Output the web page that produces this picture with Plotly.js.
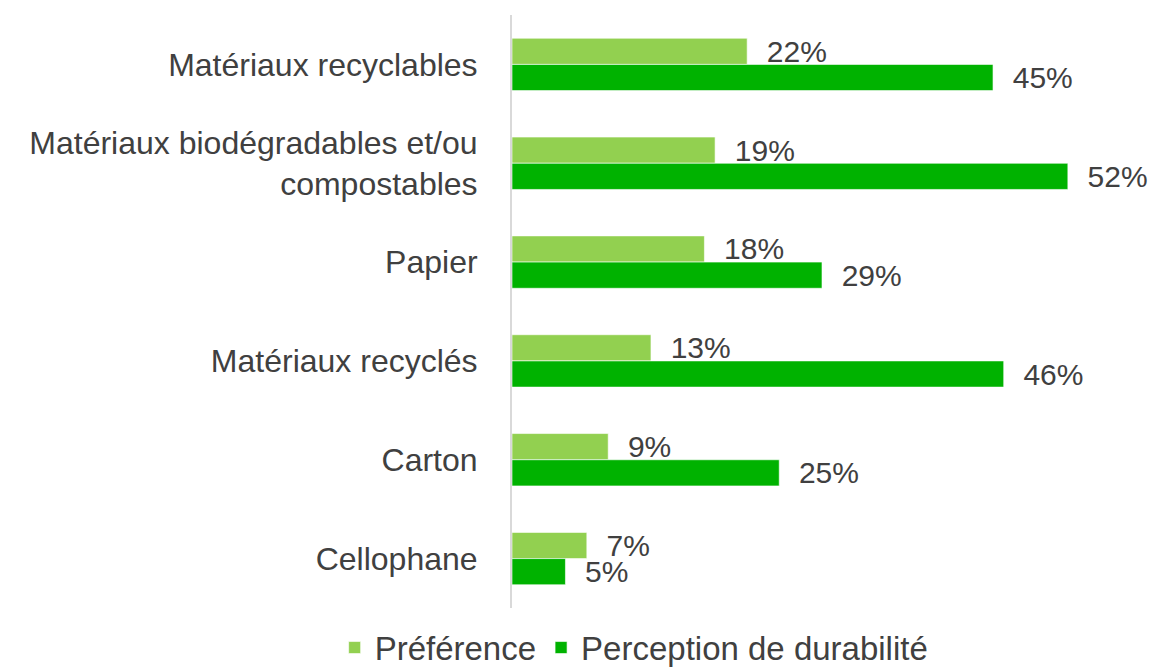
<!DOCTYPE html>
<html>
<head>
<meta charset="utf-8">
<script src="https://cdn.plot.ly/plotly-3.0.1.min.js"></script>
<style>html,body{margin:0;padding:0;background:#fff;}#chart{width:1150px;height:669px;}</style>
</head>
<body>
<div id="chart"></div>
<script>
const categories = ["Matériaux recyclables", "Matériaux biodégradables et/ou<br>compostables", "Papier", "Matériaux recyclés", "Carton", "Cellophane"];
const preference = [22, 19, 18, 13, 9, 7];
const perception = [45, 52, 29, 46, 25, 5];
const seriesNames = ["Préférence", "Perception de durabilité"];

const font = {family: "'Liberation Sans', Arial, sans-serif", color: "#404040"};
const labelFont = Object.assign({}, font, {size: 30});

const traces = [
  {
    type: "bar", orientation: "h", name: seriesNames[0],
    y: categories, x: preference,
    marker: {color: "#92D050", line: {color: "rgba(255,255,255,0.6)", width: 1}},
    texttemplate: "\u00a0\u00a0%{x}%", textposition: "outside", cliponaxis: false, constraintext: "none",
    textfont: labelFont, hoverinfo: "skip"
  },
  {
    type: "bar", orientation: "h", name: seriesNames[1],
    y: categories, x: perception,
    marker: {color: "#00B200", line: {color: "rgba(255,255,255,0.6)", width: 1}},
    texttemplate: "\u00a0\u00a0%{x}%", textposition: "outside", cliponaxis: false, constraintext: "none",
    textfont: labelFont, hoverinfo: "skip"
  }
];

const layout = {
  width: 1150, height: 669,
  margin: {l: 512, r: 18, t: 15, b: 61, pad: 0, autoexpand: false},
  paper_bgcolor: "#fff", plot_bgcolor: "#fff",
  barmode: "group", bargap: 0.47, bargroupgap: 0,
  font: font,
  xaxis: {range: [0, 58], showgrid: false, zeroline: false, showticklabels: false, showline: false, ticks: ""},
  yaxis: {autorange: "reversed", showgrid: false, zeroline: false, showline: true, linecolor: "#d9d9d9", linewidth: 2,
          ticks: "", ticklabelstandoff: 26, tickfont: Object.assign({}, font, {size: 32})},
  showlegend: true,
  legend: {orientation: "h", x: 0.197, xanchor: "center", yref: "container", y: 0.032, yanchor: "middle",
           font: Object.assign({}, font, {size: 33}), itemwidth: 30, traceorder: "normal"},
  uniformtext: {mode: false}
};

Plotly.newPlot("chart", traces, layout, {staticPlot: true, displayModeBar: false});
</script>
</body>
</html>
